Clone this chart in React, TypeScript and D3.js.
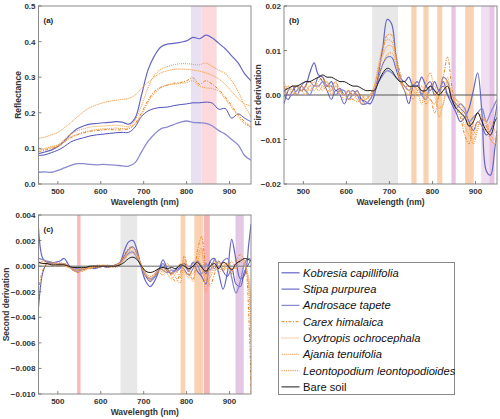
import React from "react";
import * as d3 from "d3";

// ---------------- DATA ----------------
const wlA = [455,470,485,500,515,530,545,560,575,590,605,620,635,650,665,680,695,710,725,740,755,770,785,800,815,830,845,860,875,890,905,920,935,950];
const wlB = [455,465,475,485,495,505,515,525,535,545,555,565,575,585,595,605,615,625,635,645,655,665,675,685,695,705,715,725,735,745,755,765,775,785,795,805,815,825,835,845,855,865,875,885,895,905,915,925,935,945,950];

const speciesNames = ["Kobresia capillifolia","Stipa purpurea","Androsace tapete","Carex himalaica","Oxytropis ochrocephala","Ajania tenuifolia","Leontopodium leontopodioides","Bare soil"];

// Panel (a) reflectance
const reflKobresia = [0.085,0.09,0.095,0.105,0.12,0.14,0.155,0.163,0.168,0.17,0.172,0.173,0.175,0.174,0.168,0.185,0.25,0.32,0.36,0.385,0.393,0.395,0.398,0.402,0.412,0.408,0.418,0.41,0.395,0.38,0.36,0.34,0.31,0.29];
const reflStipa = [0.08,0.082,0.088,0.095,0.105,0.118,0.125,0.13,0.135,0.138,0.14,0.142,0.144,0.145,0.145,0.16,0.19,0.205,0.212,0.215,0.216,0.22,0.223,0.225,0.228,0.228,0.23,0.227,0.21,0.212,0.185,0.197,0.185,0.175];
const reflAndrosace = [0.033,0.034,0.033,0.038,0.045,0.052,0.057,0.057,0.055,0.054,0.055,0.054,0.053,0.051,0.05,0.06,0.09,0.12,0.14,0.155,0.16,0.167,0.173,0.177,0.173,0.172,0.17,0.163,0.15,0.14,0.125,0.11,0.08,0.067];
const reflCarex = [0.09,0.095,0.1,0.105,0.118,0.13,0.138,0.143,0.148,0.15,0.152,0.153,0.152,0.152,0.155,0.17,0.2,0.235,0.26,0.272,0.278,0.283,0.285,0.29,0.298,0.28,0.29,0.28,0.265,0.245,0.22,0.195,0.175,0.16];
const reflOxytropis = [0.095,0.1,0.105,0.11,0.125,0.14,0.15,0.155,0.16,0.162,0.163,0.164,0.165,0.163,0.162,0.18,0.22,0.27,0.305,0.322,0.33,0.335,0.338,0.338,0.336,0.335,0.34,0.33,0.32,0.31,0.29,0.26,0.22,0.19];
const reflAjania = [0.128,0.132,0.138,0.145,0.158,0.172,0.188,0.203,0.215,0.222,0.228,0.232,0.235,0.238,0.24,0.25,0.268,0.285,0.3,0.312,0.318,0.322,0.323,0.322,0.32,0.317,0.312,0.305,0.295,0.28,0.26,0.24,0.225,0.22];
const reflLeontopodium = [0.095,0.098,0.103,0.108,0.12,0.132,0.14,0.146,0.15,0.153,0.155,0.156,0.157,0.156,0.157,0.168,0.195,0.23,0.255,0.27,0.278,0.28,0.283,0.285,0.29,0.275,0.27,0.268,0.26,0.24,0.215,0.19,0.17,0.16];

// Panel (b) first derivative
const d1Kobresia = [0.0,-0.001,0.001,0.002,0.001,0.002,0.005,0.0072,0.0045,0.004,0.002,0.003,0.001,0.0015,0.0,0.001,0.0,0.001,-0.001,-0.0015,-0.002,0.0,0.005,0.011,0.017,0.016,0.009,0.004,0.003,0.004,0.002,0.002,0.004,0.002,0.001,0.003,0.001,0.003,0.0,-0.002,-0.004,-0.006,-0.005,-0.003,0.001,0.005,-0.004,-0.017,-0.018,-0.012,-0.008];
const d1Stipa = [-0.002,0.001,0.002,0.0,0.002,0.003,0.003,0.002,0.004,0.003,0.001,-0.001,0.001,0.0,-0.002,0.0,0.001,0.0,-0.001,-0.002,-0.001,0.001,0.004,0.007,0.0085,0.0085,0.006,0.003,0.001,-0.002,0.002,0.003,0.0,0.002,0.003,0.0,0.001,0.002,0.0,-0.001,-0.002,-0.003,-0.004,-0.006,-0.008,-0.006,-0.007,-0.009,-0.008,-0.005,-0.002];
const d1Androsace = [0.001,0.0,0.0,0.001,0.002,0.001,0.0,0.002,0.002,0.003,0.002,0.002,0.0,0.001,0.001,-0.001,0.0,0.0,-0.002,-0.002,-0.001,0.001,0.003,0.0045,0.0055,0.005,0.004,0.003,0.002,0.001,0.002,0.003,0.0,-0.001,0.002,0.001,0.0,0.004,0.003,-0.001,-0.003,-0.002,-0.003,-0.006,-0.005,-0.004,-0.003,-0.006,-0.004,-0.002,-0.001];
const d1Carex = [0.002,0.0,0.001,0.002,0.001,0.002,0.003,0.002,0.003,0.004,0.002,0.002,0.003,0.001,0.0,0.001,-0.001,0.0,0.0,-0.001,0.0,0.002,0.006,0.01,0.0135,0.0135,0.009,0.005,0.002,0.002,0.001,0.0,0.001,-0.002,-0.001,-0.004,0.0,0.004,0.0085,0.002,-0.003,-0.005,-0.009,-0.011,-0.006,-0.004,-0.005,-0.007,-0.01,-0.011,-0.009];
const d1Oxytropis = [0.001,0.002,0.0,0.001,0.002,0.001,0.002,0.003,0.001,0.002,0.003,0.001,0.002,0.001,-0.001,0.0,0.001,-0.001,-0.001,0.0,-0.001,0.002,0.007,0.011,0.0125,0.012,0.009,0.004,0.001,0.0,0.003,0.001,-0.002,0.003,0.005,0.0,-0.003,-0.002,0.004,0.0,-0.002,-0.004,-0.007,-0.009,-0.01,-0.007,-0.005,-0.006,-0.009,-0.01,-0.01];
const d1Ajania = [0.0,0.002,0.001,0.0,0.001,0.0,0.002,0.001,0.002,0.001,0.003,0.0,0.002,0.001,0.0,0.001,0.0,0.001,-0.002,-0.001,0.0,0.002,0.006,0.009,0.011,0.011,0.008,0.003,0.001,0.0,0.002,0.001,0.001,-0.001,0.001,0.002,-0.005,-0.002,0.002,0.001,-0.001,-0.003,-0.005,-0.007,-0.009,-0.006,-0.007,-0.008,-0.006,-0.008,-0.009];
const d1Leontopodium = [0.003,0.001,0.002,0.002,0.001,0.002,0.001,0.002,0.002,0.002,0.001,0.001,0.003,0.0,0.0,-0.001,-0.001,-0.0015,-0.001,-0.001,0.0,0.001,0.004,0.007,0.009,0.0095,0.007,0.003,0.002,0.001,-0.001,0.001,0.002,0.0,-0.001,-0.002,0.0,0.001,0.003,-0.001,-0.001,-0.002,-0.004,-0.007,-0.011,-0.008,-0.005,-0.006,-0.01,-0.011,-0.008];
const d1Soil = [0.001,0.0015,0.002,0.002,0.0025,0.003,0.003,0.0035,0.004,0.0045,0.004,0.004,0.0035,0.003,0.003,0.0025,0.002,0.002,0.0015,0.001,0.001,0.001,0.003,0.005,0.006,0.0055,0.004,0.003,0.003,0.002,0.002,0.002,0.001,0.001,0.002,0.001,0.0,0.001,0.002,-0.001,-0.003,-0.004,-0.005,-0.007,-0.006,-0.004,-0.006,-0.008,-0.009,-0.006,-0.005];

// Panel (c) second derivative
const d2Kobresia = [0.003,0.0006,0.0003,0.0002,0.0003,0.0004,0.0006,0.0001,-0.0003,-0.0004,-0.0003,-0.0002,-0.0001,-0.0002,-0.0001,0.0,-0.0001,0.0,0.0001,0.0003,0.0012,0.0019,0.002,0.0012,-0.0002,-0.0012,-0.0016,-0.0012,-0.0004,0.0005,-0.0002,-0.0006,-0.0003,-0.0001,0.0002,-0.0003,0.0003,-0.0004,-0.0008,-0.0014,0.0004,0.0006,-0.0006,-0.0018,-0.0005,0.0021,0.0005,-0.001,-0.0007,0.0018,0.0033];
const d2Stipa = [-0.0033,-0.0005,0.0002,0.0003,0.0002,0.0001,0.0002,0.0,-0.0002,-0.0003,-0.0002,-0.0002,-0.0001,-0.0001,-0.0001,0.0,0.0,0.0,0.0001,0.0002,0.0008,0.0013,0.0015,0.0009,-0.0001,-0.0008,-0.0012,-0.0009,-0.0003,0.0002,-0.0004,-0.0005,-0.0002,0.0,-0.0003,-0.0007,-0.0002,0.0004,0.0,-0.0006,0.0003,-0.0002,0.0004,-0.0004,-0.0008,-0.0002,-0.0014,-0.0016,-0.0004,0.0002,0.0005];
const d2Androsace = [0.0006,0.0005,0.0004,0.0003,0.0002,0.0002,0.0001,0.0,-0.0001,-0.0002,-0.0002,-0.0001,-0.0001,0.0,0.0,0.0,-0.0001,0.0,0.0,0.0002,0.0006,0.001,0.0011,0.0006,-0.0001,-0.0007,-0.001,-0.0008,-0.0002,-0.0003,-0.0005,-0.0003,-0.0004,-0.0002,0.0,-0.0004,0.0003,0.0001,-0.0006,0.0002,-0.0003,0.0005,-0.0001,0.0004,0.0006,-0.0009,-0.0021,-0.0012,0.0002,0.0006,0.0004];
const d2Carex = [-0.002,-0.0003,0.0002,0.0003,0.0001,0.0002,0.0001,0.0,-0.0003,-0.0005,-0.0004,-0.0002,-0.0002,-0.0001,0.0,0.0,-0.0001,0.0,0.0001,0.0003,0.0009,0.0014,0.0015,0.001,0.0,-0.0008,-0.0011,-0.0008,-0.0005,-0.0007,-0.0003,-0.0008,-0.0012,-0.0006,0.0008,-0.0006,-0.001,0.0012,0.0023,-0.0004,-0.0015,-0.0006,0.0002,-0.0004,0.0003,-0.0006,0.0004,0.0009,0.0004,-0.004,-0.01];
const d2Oxytropis = [0.0002,0.0003,0.0001,0.0002,0.0,0.0003,0.0001,-0.0001,-0.0002,-0.0004,-0.0003,-0.0001,-0.0002,0.0,0.0001,0.0,0.0,-0.0001,0.0,0.0002,0.0007,0.0012,0.0014,0.0009,0.0001,-0.0006,-0.001,-0.0007,-0.0003,-0.0005,0.0002,-0.0004,-0.0009,-0.0013,0.0003,-0.0002,-0.0012,0.0003,0.0012,-0.002,-0.0006,0.0003,-0.0006,0.0002,-0.0003,0.0004,-0.0002,0.0005,0.0003,-0.002,-0.006];
const d2Ajania = [0.0004,0.0002,0.0002,0.0001,0.0002,0.0001,0.0,-0.0001,-0.0003,-0.0003,-0.0002,-0.0002,-0.0001,-0.0001,0.0,0.0001,0.0,0.0,0.0001,0.0002,0.0006,0.0011,0.0012,0.0008,0.0,-0.0007,-0.0009,-0.0006,-0.0004,-0.0002,-0.0006,-0.001,-0.0005,0.0002,-0.0004,-0.0009,0.0001,0.0006,-0.0002,-0.0011,0.0001,-0.0004,0.0003,-0.0002,0.0001,-0.0004,0.0002,0.0006,0.0002,-0.001,-0.003];
const d2Leontopodium = [0.0001,0.0004,0.0003,0.0001,0.0003,0.0,0.0002,0.0,-0.0002,-0.0003,-0.0004,-0.0003,-0.0001,0.0,-0.0001,0.0,0.0001,0.0,-0.0001,0.0001,0.0005,0.0009,0.001,0.0007,0.0001,-0.0005,-0.0008,-0.0006,-0.0002,-0.0004,-0.0002,-0.0006,-0.0004,-0.0009,0.0005,-0.0003,-0.0006,0.0008,0.0014,-0.0012,-0.0009,0.0,0.0004,-0.0003,0.0002,-0.0002,0.0001,0.0003,0.0001,-0.0015,-0.0045];
const d2Soil = [0.0003,0.0002,0.0002,0.0001,0.0001,0.0001,0.0001,0.0,-0.0001,-0.0001,-0.0001,-0.0001,0.0,0.0,0.0,0.0,0.0,0.0,0.0,0.0001,0.0003,0.0006,0.0007,0.0005,0.0,-0.0004,-0.0005,-0.0004,-0.0002,-0.0001,-0.0002,-0.0001,-0.0002,0.0001,0.0,-0.0002,0.0,0.0003,-0.0001,-0.0004,0.0,0.0002,-0.0002,0.0003,0.0001,-0.0003,0.0002,0.0004,0.0006,0.0005,0.0004];

// Highlighted bands (nm start, nm end)
const bandsAStart = [810, 835];
const bandsAEnd = [835, 870];
const bandsBStart = [660, 751, 779, 811, 844, 876, 913, 932];
const bandsBEnd = [720, 763, 791, 823, 854, 896, 932, 944];
const bandsCStart = [545, 646, 786, 818, 840, 914];
const bandsCEnd = [553, 685, 797, 838, 854, 933];

const ticksX = [500, 600, 700, 800, 900];
const ticksA = [0, 0.1, 0.2, 0.3, 0.4, 0.5];
const ticksB = [-0.02, -0.01, 0, 0.01, 0.02];
const ticksC = [-0.01, -0.008, -0.006, -0.004, -0.002, 0, 0.002, 0.004];

// ---------------- STYLES ----------------
const styles = [
  { color: "#6565c6", width: 1.2, dash: "" },
  { color: "#4f4fbd", width: 1.0, dash: "" },
  { color: "#8a8ad0", width: 1.3, dash: "" },
  { color: "#e8801f", width: 1.0, dash: "3,1.5,1,1.5" },
  { color: "#f2a04e", width: 1.1, dash: "1,1" },
  { color: "#f4ad6a", width: 1.0, dash: "1.5,0.5" },
  { color: "#f0a55c", width: 1.1, dash: "1.2,1" },
  { color: "#1a1a1a", width: 1.0, dash: "" },
];
const bandColorsA = ["#e9e1f1", "#fcd9dc"];
const bandColorsB = ["#e8e8e8", "#f9d3b1", "#f9d3b1", "#f9d3b1", "#e6c4e6", "#f9d3b1", "#f0dff0", "#e6c4e6"];
const bandColorsC = ["#f7b8bd", "#e8e8e8", "#f9d3b1", "#f9d3b1", "#f7b5ba", "#e5c8e5"];

const FONT = "'Liberation Sans', Arial, sans-serif";

type PanelProps = {
  id: string;
  x0: number; x1: number; y0: number; y1: number;
  wl: number[];
  series: (number[] | null)[];
  yDomain: [number, number];
  yTicks: number[];
  yFmt: (v: number) => string;
  bandStart: number[]; bandEnd: number[]; bandColors: string[];
  label: string; yTitle: string; yTitleX: number;
  zeroLine?: { color: string; width: number };
};

function Panel(p: PanelProps) {
  const x = d3.scaleLinear().domain([455, 950]).range([p.x0, p.x1]);
  const y = d3.scaleLinear().domain(p.yDomain).range([p.y1, p.y0]);
  const line = d3.line<[number, number]>()
    .x((d) => x(d[0]))
    .y((d) => y(d[1]))
    .curve(d3.curveCatmullRom.alpha(0.5));
  const cx = (p.x0 + p.x1) / 2;
  const cy = (p.y0 + p.y1) / 2;
  return (
    <g>
      <defs>
        <clipPath id={"clip-" + p.id}>
          <rect x={p.x0} y={p.y0} width={p.x1 - p.x0} height={p.y1 - p.y0} />
        </clipPath>
      </defs>
      {p.bandStart.map((s, i) => (
        <rect key={"b" + i} x={x(s)} y={p.y0} width={x(p.bandEnd[i]) - x(s)} height={p.y1 - p.y0} fill={p.bandColors[i]} />
      ))}
      {p.zeroLine && (
        <line x1={p.x0} x2={p.x1} y1={y(0)} y2={y(0)} stroke={p.zeroLine.color} strokeWidth={p.zeroLine.width} />
      )}
      <g clipPath={`url(#clip-${p.id})`}>
        {p.series.map((s, i) =>
          s ? (
            <path key={"s" + i} d={line(p.wl.map((w, j) => [w, s[j]] as [number, number])) || ""} fill="none"
              stroke={styles[i].color} strokeWidth={styles[i].width} strokeDasharray={styles[i].dash || undefined} />
          ) : null
        )}
      </g>
      <rect x={p.x0} y={p.y0} width={p.x1 - p.x0} height={p.y1 - p.y0} fill="none" stroke="#8a8a8a" strokeWidth={1} />
      {ticksX.map((t) => (
        <g key={"tx" + t}>
          <line x1={x(t)} x2={x(t)} y1={p.y1} y2={p.y1 - 3} stroke="#666" strokeWidth={0.8} />
          <text x={x(t)} y={p.y1 + 10} textAnchor="middle" fontSize={8} fontWeight="bold" fill="#333" fontFamily={FONT}>{t}</text>
        </g>
      ))}
      {p.yTicks.map((t) => (
        <g key={"ty" + t}>
          <line x1={p.x0} x2={p.x0 + 3} y1={y(t)} y2={y(t)} stroke="#666" strokeWidth={0.8} />
          <text x={p.x0 - 3} y={y(t) + 3} textAnchor="end" fontSize={8} fontWeight="bold" fill="#333" fontFamily={FONT}>{p.yFmt(t)}</text>
        </g>
      ))}
      <text x={p.x0 + 5} y={p.y0 + 17} fontSize={8} fontWeight="bold" fill="#222" fontFamily={FONT}>{p.label}</text>
      <text x={cx} y={p.y1 + 20.5} textAnchor="middle" fontSize={8.5} fontWeight="bold" fill="#333" fontFamily={FONT}>Wavelength (nm)</text>
      <text transform={`translate(${p.yTitleX},${cy}) rotate(-90)`} textAnchor="middle" fontSize={8.5} fontWeight="bold" fill="#333" fontFamily={FONT}>{p.yTitle}</text>
    </g>
  );
}

export default function App() {
  const fmt = (f: string) => (v: number) => d3.format(f)(Math.abs(v) < 1e-12 ? 0 : v);
  const legendX = 278.5, legendY = 262.5, legendW = 176, legendH = 132;
  return (
    <svg width={500} height={419} style={{ position: "absolute", left: 0, top: 0, background: "#fff" }}>
      <Panel id="a" x0={38.5} x1={251} y0={6} y1={184} wl={wlA}
        series={[reflKobresia, reflStipa, reflAndrosace, reflCarex, reflOxytropis, reflAjania, reflLeontopodium, null]}
        yDomain={[0, 0.5]} yTicks={ticksA} yFmt={fmt(".1f")}
        bandStart={bandsAStart} bandEnd={bandsAEnd} bandColors={bandColorsA}
        label="(a)" yTitle="Reflectance" yTitleX={21} />
      <Panel id="b" x0={284} x1={497} y0={6} y1={184} wl={wlB}
        series={[d1Kobresia, d1Stipa, d1Androsace, d1Carex, d1Oxytropis, d1Ajania, d1Leontopodium, d1Soil]}
        yDomain={[-0.02, 0.02]} yTicks={ticksB} yFmt={fmt(".2f")}
        bandStart={bandsBStart} bandEnd={bandsBEnd} bandColors={bandColorsB}
        label="(b)" yTitle="First derivation" yTitleX={261}
        zeroLine={{ color: "#555", width: 1 }} />
      <Panel id="c" x0={38.5} x1={251} y0={215} y1={394} wl={wlB}
        series={[d2Kobresia, d2Stipa, d2Androsace, d2Carex, d2Oxytropis, d2Ajania, d2Leontopodium, d2Soil]}
        yDomain={[-0.01, 0.004]} yTicks={ticksC} yFmt={fmt(".3f")}
        bandStart={bandsCStart} bandEnd={bandsCEnd} bandColors={bandColorsC}
        label="(c)" yTitle="Second derivation" yTitleX={9}
        zeroLine={{ color: "#999", width: 1.5 }} />
      <rect x={legendX} y={legendY} width={legendW} height={legendH} fill="#fff" stroke="#8a8a8a" strokeWidth={1} />
      {speciesNames.map((n, i) => {
        const yy = legendY + 10.3 + i * 16.3;
        return (
          <g key={n}>
            <line x1={legendX + 3} x2={legendX + 21} y1={yy} y2={yy} stroke={styles[i].color}
              strokeWidth={styles[i].width} strokeDasharray={styles[i].dash || undefined} />
            <text x={legendX + 24.5} y={yy + 4} fontSize={11.2} fontStyle={i < 7 ? "italic" : "normal"} fill="#111" fontFamily={FONT}>{n}</text>
          </g>
        );
      })}
    </svg>
  );
}
